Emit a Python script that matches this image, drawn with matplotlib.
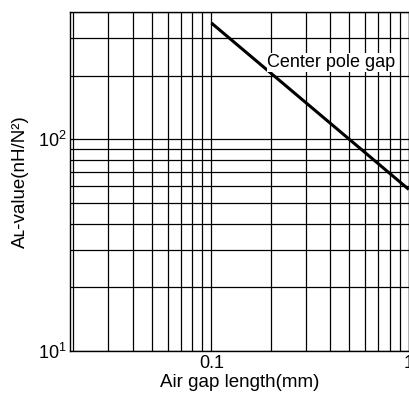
import matplotlib
matplotlib.use('Agg')
import matplotlib.pyplot as plt

plt.rcParams['font.family'] = ['Liberation Sans', 'DejaVu Sans']
plt.rcParams['mathtext.fontset'] = 'custom'
plt.rcParams['mathtext.rm'] = 'Liberation Sans'
plt.rcParams['mathtext.default'] = 'regular'

# air gap (mm) vs AL-value (nH/N^2), center pole gap
gap_mm = [0.1, 1.0]
al_value = [355, 58]

x_min, x_max = 0.0193, 1.0
y_min, y_max = 10, 400

fig = plt.figure(figsize=(4.09, 3.96), dpi=100)
ax = fig.add_axes([70.3 / 409, 45 / 396, 338.5 / 409, 339 / 396])

ax.plot(gap_mm, al_value, color='black', lw=2.2, solid_capstyle='butt')
ax.set_xscale('log')
ax.set_yscale('log')
ax.set_xlim(x_min, x_max)
ax.set_ylim(y_min, y_max)

ax.grid(True, which='both', color='black', lw=0.9)
ax.set_axisbelow(True)
ax.tick_params(which='both', length=0, labelsize=13, pad=3)
ax.set_xticks([0.1, 1])
ax.set_xticklabels(['0.1', '1'])
ax.tick_params(axis='y', which='minor', labelleft=False)
ax.tick_params(axis='x', which='minor', labelbottom=False)

for s in ax.spines.values():
    s.set_color('black')
    s.set_linewidth(1.0)

ax.text(0.192, 231, 'Center pole gap', fontsize=13, va='center', ha='left',
        bbox=dict(facecolor='white', edgecolor='none', pad=0.5))

ax.set_xlabel('Air gap length(mm)', fontsize=13.5, labelpad=1)
ax.set_ylabel('A\u029f-value(nH/N\u00b2)', fontsize=13.5, labelpad=6)

plt.savefig('out.png', dpi=100)
